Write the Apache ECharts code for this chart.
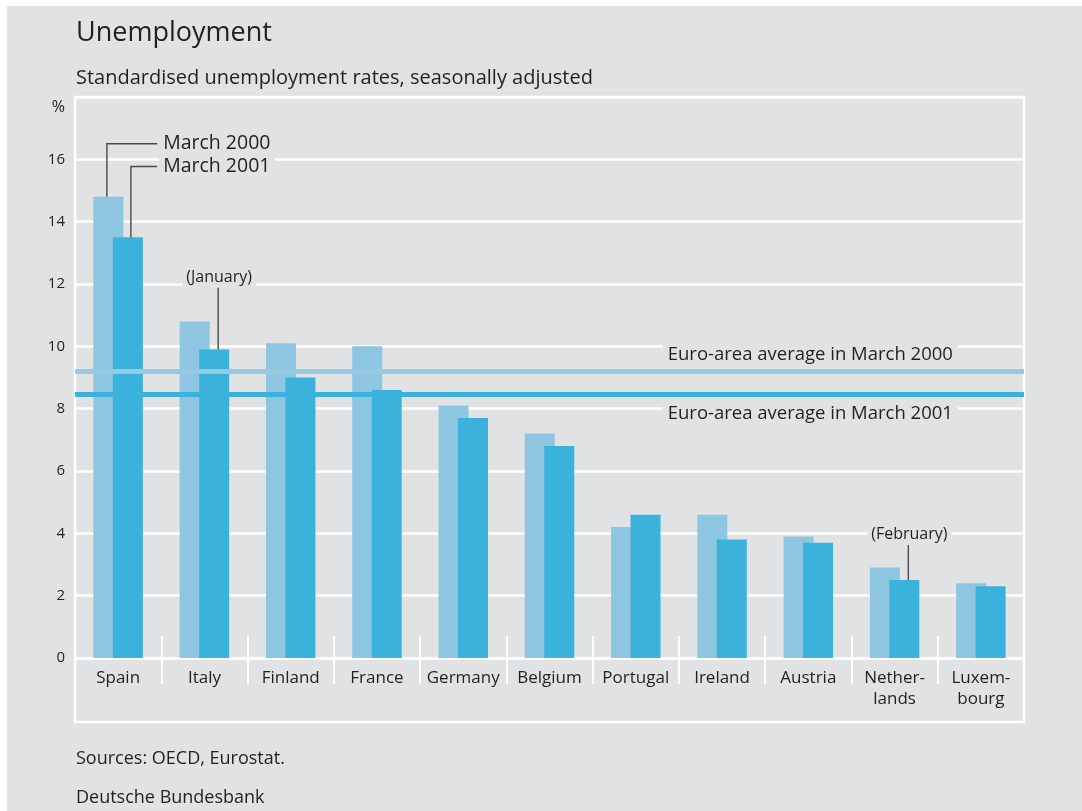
<!DOCTYPE html>
<html><head><meta charset="utf-8">
<script src="https://cdn.jsdelivr.net/npm/echarts@6/dist/echarts.min.js"></script>
<style>html,body{margin:0;padding:0;background:#fff;}#c{width:1082px;height:811px;}</style>
</head><body><div id="c"></div>
<script>
// ---- data ----
const categories = ['Spain','Italy','Finland','France','Germany','Belgium','Portugal','Ireland','Austria','Nether-\nlands','Luxem-\nbourg'];
const seriesNames = ['March 2000','March 2001'];
const march2000 = [14.8,10.8,10.1,10.0,8.1,7.2,4.2,4.6,3.9,2.9,2.4];
const march2001 = [13.5,9.9,9.0,8.6,7.7,6.8,4.6,3.8,3.7,2.5,2.3];
const euroAverage2000 = 9.2;
const euroAverage2001 = 8.45;
const yMin = 0, yMax = 18, yStep = 2;
const titleText = 'Unemployment';
const subtitleText = 'Standardised unemployment rates, seasonally adjusted';
const sourceText = 'Sources: OECD, Eurostat.';
const publisherText = 'Deutsche Bundesbank';
const barNotes = [
  {cat:0, bar:0, text:'March 2000', kind:'elbow', at:16.5},
  {cat:0, bar:1, text:'March 2001', kind:'elbow', at:15.77},
  {cat:1, bar:1, text:'(January)', kind:'above', at:11.9, labelAt:12.2},
  {cat:9, bar:1, text:'(February)', kind:'above', at:3.65, labelAt:3.95}
];
const euroNotes = [
  {cat:8, text:'Euro-area average in March 2000', at:9.72},
  {cat:8, text:'Euro-area average in March 2001', at:7.85}
];

// ---- style ----
const BG = '#e1e2e4';
const TXT = '#231f20';
const FONT = '"Open Sans", "Noto Sans", sans-serif';
const LIGHT = '#8ec5e1';
const DARK = '#3bb2dc';
const BAR_W = 30, BAR_GAP = -10.5;
const barOffsets = [-(BAR_W + BAR_GAP)/2, (BAR_W + BAR_GAP)/2];
const lineShift = {elbow:[-1.5, 3], above:[0, 4]};
const barValues = [march2000, march2001];

const chart = echarts.init(document.getElementById('c'), null, {renderer:'canvas'});

function renderNote(params, api) {
  const n = barNotes[params.dataIndex];
  const v = barValues[n.bar][n.cat];
  const base = api.coord([n.cat, v]);
  const center = api.coord([n.cat, 0])[0];
  const x = base[0] + barOffsets[n.bar] + lineShift[n.kind][n.bar];
  const lineStyle = {stroke:'#4a4a4a', lineWidth:1.4};
  const children = [];
  if (n.kind === 'elbow') {
    const ey = api.coord([n.cat, n.at])[1];
    children.push({type:'polyline', shape:{points:[[x, base[1]], [x, ey], [center + 39, ey]]}, style:Object.assign({fill:null}, lineStyle)});
    children.push({type:'text', x:center + 41, y:ey, style:{text:n.text, fill:TXT, font:'19.5px ' + FONT, align:'left', verticalAlign:'middle', backgroundColor:BG, padding:[2,4,2,4]}});
  } else {
    const ty = api.coord([n.cat, n.at])[1];
    const ly = api.coord([n.cat, n.labelAt])[1];
    children.push({type:'line', shape:{x1:x, y1:base[1], x2:x, y2:ty}, style:lineStyle});
    children.push({type:'text', x:x + 1, y:ly, style:{text:n.text, fill:TXT, font:'16px ' + FONT, align:'center', verticalAlign:'middle', backgroundColor:BG, padding:[2,4,2,4]}});
  }
  return {type:'group', children};
}

function renderEuro(params, api) {
  const n = euroNotes[params.dataIndex];
  const p = api.coord([n.cat, n.at]);
  return {type:'text', x:p[0] + 2, y:p[1], style:{text:n.text, fill:TXT, font:'18.5px ' + FONT, align:'center', verticalAlign:'middle', backgroundColor:BG, padding:[3,5,3,5]}};
}

const option = {
  backgroundColor: '#ffffff',
  animation: false,
  textStyle: {fontFamily: FONT, color: TXT},
  graphic: [
    {type:'rect', left:7, top:6, shape:{width:1075, height:805}, style:{fill:BG}, z:-10, silent:true},
    {type:'text', left:76, top:20, style:{text:titleText, fill:TXT, font:'27px ' + FONT}},
    {type:'text', left:76, top:68, style:{text:subtitleText, fill:TXT, font:'20px ' + FONT}},
    {type:'text', left:76, top:750, style:{text:sourceText, fill:TXT, font:'18px ' + FONT}},
    {type:'text', left:76, top:789, style:{text:publisherText, fill:TXT, font:'18px ' + FONT}}
  ],
  grid: [
    {left:75, right:58, top:97, bottom:153, show:false},
    {left:75, right:58, top:97, bottom:89, show:true, borderColor:'#ffffff', borderWidth:2.5, backgroundColor:'transparent'}
  ],
  xAxis: [
    {type:'category', gridIndex:0, position:'bottom', data:categories,
     axisLine:{show:true, lineStyle:{color:'#ffffff', width:2.5}},
     axisTick:{show:true, inside:false, length:26, lineStyle:{color:'#ffffff', width:2}, interval:0},
     axisLabel:{interval:0, margin:10, fontSize:17, lineHeight:21, color:TXT, fontFamily:FONT}},
    {type:'category', gridIndex:0, position:'bottom', data:categories,
     axisLine:{show:false},
     axisTick:{show:true, inside:true, length:22, lineStyle:{color:'#ffffff', width:2}, interval:0},
     axisLabel:{show:false}}
  ],
  yAxis: [
    {type:'value', gridIndex:0, min:yMin, max:yMax, interval:yStep,
     name:'%', nameLocation:'end', nameGap:-2,
     nameTextStyle:{align:'right', verticalAlign:'top', padding:[0,10,0,0], fontSize:16, color:TXT, fontFamily:FONT},
     axisLine:{show:false}, axisTick:{show:false},
     axisLabel:{margin:10, fontSize:15, color:TXT, fontFamily:FONT, formatter:v => v === yMax ? '' : String(v)},
     splitLine:{show:true, lineStyle:{color:'#ffffff', width:2.5}}}
  ],
  series: [
    {type:'bar', name:seriesNames[0], data:march2000, xAxisIndex:0, yAxisIndex:0, barWidth:BAR_W, barGap:(BAR_GAP/BAR_W*100)+'%', itemStyle:{color:LIGHT}, z:2},
    {type:'bar', name:seriesNames[1], data:march2001, xAxisIndex:0, yAxisIndex:0, barWidth:BAR_W, itemStyle:{color:DARK}, z:3},
    {type:'custom', name:'notes', coordinateSystem:'cartesian2d', xAxisIndex:0, yAxisIndex:0, clip:false, z:6,
     data: barNotes.map(n => [n.cat, n.at]), renderItem: renderNote, silent:true},
    {type:'custom', name:'euro', coordinateSystem:'cartesian2d', xAxisIndex:0, yAxisIndex:0, clip:false, z:5,
     data: euroNotes.map(n => [n.cat, n.at]), renderItem: renderEuro, silent:true,
     markLine:{silent:true, symbol:'none', animation:false, label:{show:false}, z:5,
       data:[
         {yAxis:euroAverage2000, lineStyle:{color:'#96c9e3', width:5, type:'solid'}},
         {yAxis:euroAverage2001, lineStyle:{color:'#3bb2dc', width:5, type:'solid'}}
       ]}}
  ]
};
chart.setOption(option);
</script>
</body></html>
